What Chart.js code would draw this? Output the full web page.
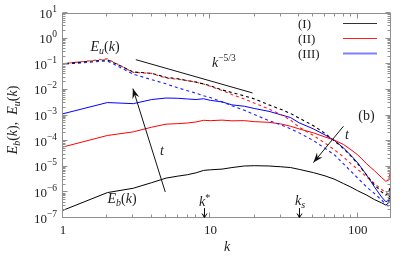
<!DOCTYPE html>
<html><head><meta charset="utf-8">
<script src="https://cdn.jsdelivr.net/npm/chart.js@4/dist/chart.umd.min.js"></script>
<style>html,body{margin:0;padding:0;background:#fff}canvas{display:block}</style>
</head><body>
<canvas id="c" width="415" height="259"></canvas>
<script>
// ---- data ----
const kValues = [1,2,3,4,5,6,7,8,9,10,12,14,17,20,25,30,35,40,50,60,70,80,90,100,115,130,145,155,162,168];
// magnetic spectra E_b(k)
const ebI   = [2.0e-7,9.8e-7,1.45e-6,2.4e-6,3.6e-6,4.3e-6,4.9e-6,5.8e-6,7.2e-6,7.6e-6,8.1e-6,9.3e-6,1.07e-5,1.1e-5,1.07e-5,1.0e-5,9.3e-6,7.9e-6,5.9e-6,4.4e-6,3.2e-6,2.2e-6,1.6e-6,1.15e-6,7.8e-7,5.2e-7,3.9e-7,3.2e-7,3.9e-7,1.2e-6];
const ebII  = [5.9e-5,1.66e-4,2.3e-4,3.5e-4,4.6e-4,4.8e-4,5.1e-4,5.6e-4,6.5e-4,6.3e-4,6.6e-4,6.2e-4,6.3e-4,5.75e-4,5.4e-4,4.7e-4,3.8e-4,3.0e-4,2.1e-4,1.45e-4,1.07e-4,7.4e-5,4.6e-5,2.9e-5,1.3e-5,6.9e-6,3.8e-6,2.7e-6,3.0e-6,8.5e-6];
const ebIII = [1.17e-3,3.2e-3,2.9e-3,4.2e-3,4.8e-3,4.7e-3,4.4e-3,4.2e-3,4.5e-3,3.9e-3,3.4e-3,2.6e-3,2.3e-3,1.86e-3,1.45e-3,1.07e-3,8.3e-4,5.2e-4,3.0e-4,1.74e-4,1.02e-4,5.4e-5,2.75e-5,1.4e-5,4.7e-6,1.6e-6,6.6e-7,4.3e-7,4.9e-7,1.6e-6];
// kinetic spectra E_u(k)
const euI   = [0.105,0.15,0.050,0.044,0.031,0.027,0.023,0.020,0.017,0.0145,0.010,0.0079,0.0058,0.0044,0.0026,0.00174,0.0012,7.9e-4,4.0e-4,2.0e-4,9.8e-5,5.1e-5,2.6e-5,1.3e-5,4.7e-6,1.9e-6,1.05e-6,7.8e-7,9.5e-7,2.6e-6];
const euII  = [0.105,0.162,0.048,0.044,0.029,0.026,0.023,0.020,0.017,0.0138,0.0095,0.0066,0.0044,0.0030,0.00178,0.0011,6.6e-4,3.5e-4,1.66e-4,8.3e-5,4.4e-5,2.4e-5,1.3e-5,7.9e-6,4.0e-6,2.2e-6,1.3e-6,9.8e-7,8.9e-7,1.6e-6];
const euIII = [0.10,0.135,0.041,0.025,0.0172,0.012,0.0093,0.0074,0.0059,0.005,0.0034,0.0024,0.0016,0.00107,6.3e-4,4.4e-4,3.0e-4,2.1e-4,1.05e-4,5.2e-5,2.8e-5,1.3e-5,6.6e-6,3.6e-6,1.6e-6,8.9e-7,5.0e-7,3.5e-7,2.8e-7,2.5e-7];
// k^{-5/3} guide line
const slopeK = [3.12, 19.3];
const slopeV = [0.151, 0.0076];
// ticks
const xTickValues = [1,10,100];
const xTickLabels = ['1','10','100'];
const yTickValues = [1e-7,1e-6,1e-5,1e-4,1e-3,1e-2,1e-1,1,10];
const yTickExps   = ['\u22127','\u22126','\u22125','\u22124','\u22123','\u22122','\u22121','0','1'];
const seriesNames = ['(I)','(II)','(III)'];
// annotations (data coordinates)
const arrowUp   = [[4.94,1.04e-6],[2.98,1.12e-2]];
const arrowDown = [[79.9,3.8e-4],[50,1.45e-5]];
const kStar = 9, kSat = 40;

const SERIF = '"Liberation Serif","Times New Roman",serif';
const RM  = s => s+'px '+SERIF;
const IT  = s => 'italic '+s+'px '+SERIF;

function runs(ctx, segs, x, y, align){
  let w=0;
  for(const s of segs){ctx.font=s.f; s.w=ctx.measureText(s.t).width; w+=s.w;}
  let cx = align==='center'? x-w/2 : (align==='right'? x-w : x);
  ctx.textAlign='left'; ctx.textBaseline='alphabetic';
  for(const s of segs){ctx.font=s.f; ctx.fillText(s.t,cx,y+(s.dy||0)); cx+=s.w;}
}
function arrow(ctx,x0,y0,x1,y1,len,hw){
  ctx.beginPath(); ctx.moveTo(x0,y0); ctx.lineTo(x1,y1); ctx.stroke();
  const ang=Math.atan2(y1-y0,x1-x0), c=Math.cos(ang), s=Math.sin(ang);
  const bx=x1-len*c, by=y1-len*s, nx=x1-len*0.65*c, ny=y1-len*0.65*s;
  ctx.beginPath(); ctx.moveTo(x1,y1);
  ctx.lineTo(bx - hw*s, by + hw*c);
  ctx.lineTo(nx,ny);
  ctx.lineTo(bx + hw*s, by - hw*c);
  ctx.closePath(); ctx.fill();
}
function minors(min,max){
  const out=[];
  for(let e=Math.floor(Math.log10(min)); e<=Math.ceil(Math.log10(max)); e++)
    for(let m=2;m<=9;m++){const v=m*Math.pow(10,e); if(v>min*1.0001 && v<max*0.9999) out.push(v);}
  return out;
}

const deco = {
  id:'deco',
  afterDraw(chart){
    const {ctx, chartArea:a, scales:{x,y}} = chart;
    ctx.save();
    // frame
    ctx.strokeStyle='#909090'; ctx.lineWidth=1;
    const L=Math.round(a.left)-0.5, R=Math.round(a.right)-0.5, T=Math.round(a.top)+0.5, B=Math.round(a.bottom)-0.5;
    ctx.strokeRect(L,T,R-L,B-T);
    // ticks
    ctx.beginPath();
    for(const v of xTickValues){const p=Math.round(x.getPixelForValue(v))-0.5; ctx.moveTo(p,B); ctx.lineTo(p,B-5); ctx.moveTo(p,T); ctx.lineTo(p,T+5);}
    for(const v of minors(x.min,x.max)){const p=Math.round(x.getPixelForValue(v))-0.5; ctx.moveTo(p,B); ctx.lineTo(p,B-3); ctx.moveTo(p,T); ctx.lineTo(p,T+3);}
    for(const v of yTickValues){const p=Math.round(y.getPixelForValue(v))-0.5; ctx.moveTo(L,p); ctx.lineTo(L+5,p); ctx.moveTo(R,p); ctx.lineTo(R-5,p);}
    for(const v of minors(y.min,y.max)){const p=Math.round(y.getPixelForValue(v))-0.5; ctx.moveTo(L,p); ctx.lineTo(L+3,p); ctx.moveTo(R,p); ctx.lineTo(R-3,p);}
    ctx.stroke();
    // tick labels
    ctx.fillStyle='#222';
    ctx.font=RM(13); ctx.textAlign='center'; ctx.textBaseline='alphabetic';
    xTickValues.forEach((v,i)=>{ctx.fillText(xTickLabels[i], x.getPixelForValue(v), 234);});
    yTickValues.forEach((v,i)=>{
      const p=y.getPixelForValue(v);
      runs(ctx,[{t:'10',f:RM(13)},{t:yTickExps[i],f:RM(9.5),dy:-6}],57,p+4.5,'right');
    });
    // axis titles
    runs(ctx,[{t:'k',f:IT(14)}],227,251,'center');
    ctx.save(); ctx.translate(17,120); ctx.rotate(-Math.PI/2);
    runs(ctx,[{t:'E',f:IT(14)},{t:'b',f:IT(10),dy:3},{t:'(',f:RM(14)},{t:'k',f:IT(14)},{t:'),  ',f:RM(14)},
              {t:'E',f:IT(14)},{t:'u',f:IT(10),dy:3},{t:'(',f:RM(14)},{t:'k',f:IT(14)},{t:')',f:RM(14)}],0,0,'center');
    ctx.restore();
    // annotations
    runs(ctx,[{t:'E',f:IT(14)},{t:'u',f:IT(10),dy:3},{t:'(',f:RM(14)},{t:'k',f:IT(14)},{t:')',f:RM(14)}],105,51,'center');
    runs(ctx,[{t:'E',f:IT(14)},{t:'b',f:IT(10),dy:3},{t:'(',f:RM(14)},{t:'k',f:IT(14)},{t:')',f:RM(14)}],122,203,'center');
    runs(ctx,[{t:'k',f:IT(14)},{t:'\u22125/3',f:RM(9.5),dy:-6}],212,67,'left');
    runs(ctx,[{t:'(b)',f:RM(14)}],366.5,120,'center');
    runs(ctx,[{t:'t',f:IT(14)}],162,155,'center');
    runs(ctx,[{t:'t',f:IT(14)}],347,139,'center');
    const ksx=x.getPixelForValue(kStar), kss=x.getPixelForValue(kSat);
    runs(ctx,[{t:'k',f:IT(14)},{t:'*',f:RM(10),dy:-5}],ksx+1,206,'center');
    runs(ctx,[{t:'k',f:IT(14)},{t:'s',f:IT(10),dy:3}],kss+1,205,'center');
    // arrows
    ctx.strokeStyle='#111'; ctx.fillStyle='#111'; ctx.lineWidth=1;
    arrow(ctx,x.getPixelForValue(arrowUp[0][0]),y.getPixelForValue(arrowUp[0][1]),x.getPixelForValue(arrowUp[1][0]),y.getPixelForValue(arrowUp[1][1]),10,3.6);
    arrow(ctx,x.getPixelForValue(arrowDown[0][0]),y.getPixelForValue(arrowDown[0][1]),x.getPixelForValue(arrowDown[1][0]),y.getPixelForValue(arrowDown[1][1]),10,3.6);
    for(const px of [ksx,kss]){
      const X=Math.round(px)+0.5;
      ctx.beginPath(); ctx.moveTo(X,208); ctx.lineTo(X,B); ctx.moveTo(X-2.5,B-4); ctx.lineTo(X,B); ctx.lineTo(X+2.5,B-4); ctx.stroke();
    }
    // legend
    const legCols=['#333333','#ff2020','#8080ff'], legW=[1.2,1.2,2];
    seriesNames.forEach((n,i)=>{
      const yy=23.5+15*i;
      ctx.fillStyle='#222';
      runs(ctx,[{t:n,f:RM(13)}],298,yy+4,'left');
      ctx.strokeStyle=legCols[i]; ctx.lineWidth=legW[i];
      ctx.beginPath(); ctx.moveTo(343,yy); ctx.lineTo(377,yy); ctx.stroke();
    });
    ctx.restore();
  }
};

const mk=(lab,arr,col,dash,off)=>({label:lab,data:kValues.map((k,i)=>({x:k,y:arr[i]})),borderColor:col,borderWidth:dash?1.1:1.0,borderDash:dash||[],borderDashOffset:off||0,pointRadius:0,tension:0,fill:false});

new Chart(document.getElementById('c'),{
  type:'line',
  data:{datasets:[
    mk('Eu (I)',euI,'#000000',[3,3],3),
    mk('Eu (III)',euIII,'#1f1fff',[3,3],3),
    mk('Eu (II)',euII,'#ff1f1f',[3,3],0),
    mk('Eb (I)',ebI,'#000000'),
    mk('Eb (II)',ebII,'#ff0000'),
    mk('Eb (III)',ebIII,'#0000ff'),
    {label:'k^-5/3',data:slopeK.map((k,i)=>({x:k,y:slopeV[i]})),borderColor:'#111',borderWidth:1,pointRadius:0,fill:false}
  ]},
  options:{
    responsive:false, animation:false, devicePixelRatio:1,
    layout:{padding:{top:13,right:24,left:0,bottom:0}},
    plugins:{legend:{display:false},tooltip:{enabled:false}},
    scales:{
      x:{type:'logarithmic',min:1,max:168,grid:{display:false},border:{display:false},ticks:{display:false},afterFit:s=>{s.height=41;}},
      y:{type:'logarithmic',min:1e-7,max:10,grid:{display:false},border:{display:false},ticks:{display:false},afterFit:s=>{s.width=63;}}
    }
  },
  plugins:[deco]
});
</script>
</body></html>
